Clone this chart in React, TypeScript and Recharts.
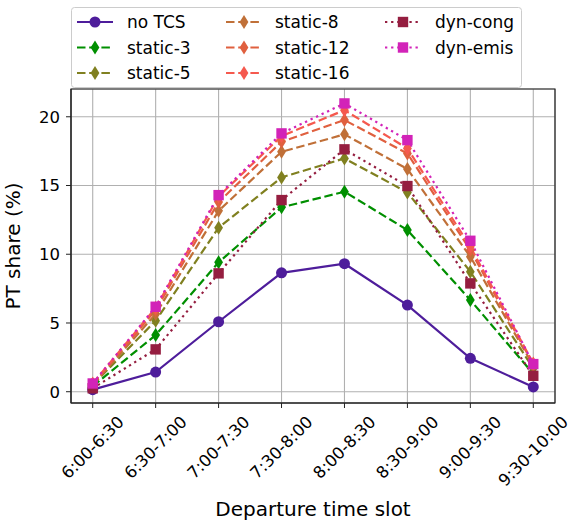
import {
  LineChart,
  Line,
  XAxis,
  YAxis,
  CartesianGrid,
  ReferenceArea,
  Legend,
} from 'recharts';

const slots = [
  '6:00-6:30',
  '6:30-7:00',
  '7:00-7:30',
  '7:30-8:00',
  '8:00-8:30',
  '8:30-9:00',
  '9:00-9:30',
  '9:30-10:00',
];

// PT share (%) per departure slot
const noTCS = [0.15, 1.43, 5.09, 8.65, 9.31, 6.3, 2.43, 0.35];
const static3 = [0.4, 4.12, 9.41, 13.41, 14.55, 11.76, 6.67, 1.3];
const static5 = [0.5, 5.16, 11.93, 15.59, 16.97, 14.5, 8.73, 1.7];
const static8 = [0.5, 5.65, 13.16, 17.45, 18.72, 16.2, 9.82, 1.9];
const static12 = [0.55, 5.94, 13.8, 18.18, 19.76, 17.33, 10.3, 2.0];
const static16 = [0.6, 6.1, 14.2, 18.6, 20.48, 17.7, 10.55, 2.05];
const dynCong = [0.25, 3.08, 8.61, 13.94, 17.63, 14.96, 7.88, 1.16];
const dynEmis = [0.6, 6.18, 14.3, 18.79, 20.97, 18.3, 10.98, 2.01];

const yTicks = [0, 5, 10, 15, 20];

const DASHED = '8.5 3.7';
const DOTTED = '2.3 3.8';

type Shape = 'circle' | 'diamond' | 'square';

const series: { key: string; name: string; values: number[]; color: string; dash?: string; shape: Shape }[] = [
  { key: 'noTCS', name: 'no TCS', values: noTCS, color: '#4e1d9b', shape: 'circle' },
  { key: 'static3', name: 'static-3', values: static3, color: '#008f00', dash: DASHED, shape: 'diamond' },
  { key: 'static5', name: 'static-5', values: static5, color: '#808020', dash: DASHED, shape: 'diamond' },
  { key: 'static8', name: 'static-8', values: static8, color: '#c07038', dash: DASHED, shape: 'diamond' },
  { key: 'static12', name: 'static-12', values: static12, color: '#e0603f', dash: DASHED, shape: 'diamond' },
  { key: 'static16', name: 'static-16', values: static16, color: '#f5594e', dash: DASHED, shape: 'diamond' },
  { key: 'dynCong', name: 'dyn-cong', values: dynCong, color: '#951e40', dash: DOTTED, shape: 'square' },
  { key: 'dynEmis', name: 'dyn-emis', values: dynEmis, color: '#d223b8', dash: DOTTED, shape: 'square' },
];

const data = slots.map((slot, i) => {
  const row: Record<string, number | string> = { i, slot };
  series.forEach((s) => {
    row[s.key] = s.values[i];
  });
  return row;
});

const FONT = '"DejaVu Sans", sans-serif';

function Marker({ shape, color, cx, cy }: { shape: Shape; color: string; cx: number; cy: number }) {
  if (shape === 'circle') return <circle cx={cx} cy={cy} r={5.5} fill={color} />;
  if (shape === 'square') return <rect x={cx - 5.2} y={cy - 5.2} width={10.4} height={10.4} fill={color} />;
  return (
    <polygon
      points={`${cx},${cy - 7} ${cx + 4.4},${cy} ${cx},${cy + 7} ${cx - 4.4},${cy}`}
      fill={color}
    />
  );
}

const makeDot = (shape: Shape, color: string, key: string) => (props: any) => (
  <Marker key={`${key}-${props.index}`} shape={shape} color={color} cx={props.cx} cy={props.cy} />
);

const charW: Record<string, number> = { ':': 0.337, '-': 0.361 };

// rotated tick label, top of the ink kept at a fixed distance under the axis
function XTick({ x, y, payload }: any) {
  const label = slots[payload.value];
  if (!label) return null;
  const fs = 16.5;
  const len = label.split('').reduce((s: number, c: string) => s + (charW[c] ?? 0.636), 0) * fs;
  const cy = y + 7 + (len + 0.73 * fs) * 0.3536;
  return (
    <g transform={`translate(${x},${cy}) rotate(-45)`}>
      <text x={0} y={0} textAnchor="middle" dominantBaseline="central" fontSize={fs} fontFamily={FONT} fill="#000">
        {label}
      </text>
    </g>
  );
}

function LegendBox() {
  const lineX = [77, 226, 385];
  const textX = [127, 275, 435];
  const rowY = [22, 47.5, 73];
  return (
    <svg width={574} height={95} style={{ position: 'absolute', left: 0, top: 0 }}>
      <rect x={71.5} y={7.5} width={450} height={80} rx={3} fill="#fff" fillOpacity={0.8} stroke="#cccccc" />
      {series.map((s, idx) => {
        const col = Math.floor(idx / 3);
        const row = idx % 3;
        const x0 = lineX[col];
        const y = rowY[row];
        return (
          <g key={s.key}>
            <line x1={x0} x2={x0 + 36} y1={y} y2={y} stroke={s.color} strokeWidth={2.2} strokeDasharray={s.dash} />
            <Marker shape={s.shape} color={s.color} cx={x0 + 18} cy={y} />
            <text x={textX[col]} y={y} dominantBaseline="central" fontSize={17} fontFamily={FONT} fill="#000">
              {s.name}
            </text>
          </g>
        );
      })}
    </svg>
  );
}

export default function App() {
  return (
    <div style={{ width: 574, height: 522, fontFamily: FONT, position: 'relative', background: '#fff' }}>
      <style>{'body{margin:0}'}</style>
      <LineChart width={574} height={522} data={data} margin={{ top: 89, right: 19, bottom: 0, left: 0 }}>
        <CartesianGrid stroke="#b0b0b0" strokeWidth={1.1} />
        <XAxis
          type="number"
          dataKey="i"
          domain={[-0.345, 7.345]}
          ticks={[0, 1, 2, 3, 4, 5, 6, 7]}
          allowDataOverflow
          height={119}
          tickSize={5}
          tickMargin={0}
          tick={<XTick />}
          stroke="#222"
          tickLine={{ stroke: '#222' }}
          label={{
            value: 'Departure time slot',
            position: 'insideBottom',
            offset: 6,
            fontSize: 20,
            fill: '#000',
            fontFamily: FONT,
          }}
        />
        <YAxis
          type="number"
          domain={[-0.82, 22.02]}
          ticks={yTicks}
          allowDataOverflow
          width={71}
          tickSize={5}
          tickMargin={6}
          stroke="#222"
          tick={{ fontSize: 16.5, fill: '#000', fontFamily: FONT }}
          label={{
            value: 'PT share (%)',
            angle: -90,
            position: 'insideLeft',
            offset: 13,
            style: { textAnchor: 'middle' },
            fontSize: 20,
            fill: '#000',
            fontFamily: FONT,
          }}
        />
        {series.map((s) => (
          <Line
            key={s.key}
            dataKey={s.key}
            name={s.name}
            stroke={s.color}
            strokeWidth={2.2}
            strokeDasharray={s.dash}
            dot={makeDot(s.shape, s.color, s.key)}
            activeDot={false}
            isAnimationActive={false}
          />
        ))}
        <ReferenceArea x1={-0.345} x2={7.345} y1={-0.82} y2={22.02} fill="none" stroke="#222" strokeWidth={1.2} />
        <Legend
          layout="horizontal"
          verticalAlign="middle"
          align="center"
          wrapperStyle={{ position: 'absolute', top: 0, left: 0, width: 574, height: 95 }}
          content={() => <LegendBox />}
        />
      </LineChart>
    </div>
  );
}
